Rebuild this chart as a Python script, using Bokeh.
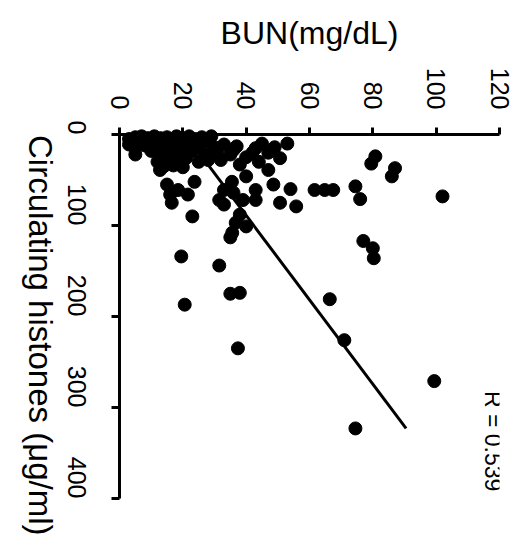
import math
from bokeh.plotting import figure
from bokeh.models import Range1d, Label, FixedTicker
from bokeh.embed import file_html
from bokeh.resources import INLINE

FONT = "Liberation Sans"

# BUN (mg/dL) values of the points
bun = [
    53, 50.7, 47, 43, 37, 33, 47, 40, 35.5, 48.6, 54, 61.6, 64.8, 67.5, 43, 33,
    43, 50.7, 55.8, 31.5, 33, 39, 36, 38, 36.7, 40, 35.6, 35, 23, 19.5, 31.5,
    35, 38, 20.6, 15, 16.5, 18.5, 21.6, 23.7, 16, 20, 12.8, 5, 3,
    80.8, 79.5, 87, 86, 74.5, 76, 102, 77, 80, 80.3, 66.4, 71,
    37.4, 99.4, 74.5,
    3, 4, 5, 6, 5, 7, 8, 8, 9, 10, 10, 11, 12, 12, 13, 13, 14, 15, 15, 16, 16,
    17, 18, 18, 19, 20, 20, 21, 22, 22, 23, 24, 25, 26, 27, 28, 29, 30, 12, 14,
    17, 19, 25, 28, 31,
    35, 40, 44, 38, 32, 36, 42, 45, 49,
]
# Circulating histones (ug/ml) values of the points
histones = [
    10, 26, 20, 15, 13, 11, 39, 46, 52, 55, 60, 61, 61, 61, 61, 61,
    72, 75, 79, 72, 77, 72, 64, 88, 97, 101, 108, 113, 90, 134, 144,
    175, 174, 187, 55, 75, 61, 66, 52, 66, 36, 39, 22, 11,
    24, 32, 37, 46, 57, 71, 68, 117, 125, 136, 181, 226,
    235, 271, 323,
    5, 10, 3, 8, 15, 2, 6, 12, 4, 9, 18, 2, 7, 14, 4, 22, 10, 3, 17, 6, 28,
    12, 2, 20, 8, 4, 15, 26, 2, 10, 18, 5, 12, 3, 22, 8, 2, 14, 30, 35,
    34, 30, 30, 28, 22,
    22, 25, 30, 33, 28, 17, 20, 10, 14,
]
# regression line end points
fit_histones = [1, 323]
fit_bun = [21, 90.5]

bun_ticks = [0, 20, 40, 60, 80, 100, 120]
histone_ticks = [0, 100, 200, 300, 400]
bun_title = "BUN(mg/dL)"
histone_title = "Circulating histones (\u03bcg/ml)"
r_text = "R = 0.539"

# layout (pixels): frame top 134, histone 400 at 498, frame extended to 535 so
# that the rotated axis title can end there; the axis itself stops at 400
FRAME_TOP, AXIS_END, FRAME_BOTTOM = 134, 498, 535
y_max = 400 * (FRAME_BOTTOM - FRAME_TOP) / (AXIS_END - FRAME_TOP)

p = figure(
    width=521, height=538,
    x_range=Range1d(0, 120), y_range=Range1d(y_max, 0),
    x_axis_location="above",
    output_backend="svg", toolbar_location=None,
    min_border_left=114, min_border_top=FRAME_TOP,
    min_border_right=22, min_border_bottom=538 - FRAME_BOTTOM,
)
p.outline_line_color = None
p.xgrid.grid_line_color = None
p.ygrid.grid_line_color = None
p.background_fill_color = "white"
p.border_fill_color = "white"

for ax in (p.xaxis[0], p.yaxis[0]):
    ax.axis_line_width = 3
    ax.axis_line_color = "black"
    ax.major_tick_line_width = 3
    ax.major_tick_line_color = "black"
    ax.major_tick_in = 0
    ax.minor_tick_line_color = None
    ax.major_label_text_font = FONT
    ax.major_label_text_font_size = "25px"
    ax.major_label_text_color = "black"
    ax.major_label_orientation = -math.pi / 2

xa = p.xaxis[0]
xa.ticker = FixedTicker(ticks=bun_ticks)
xa.major_tick_out = 7
xa.major_label_standoff = 18
xa.axis_label = bun_title
xa.axis_label_text_font = FONT
xa.axis_label_text_font_size = "32px"
xa.axis_label_text_font_style = "normal"
xa.axis_label_text_color = "black"
xa.axis_label_standoff = 14

ya = p.yaxis[0]
ya.ticker = FixedTicker(ticks=histone_ticks)
ya.bounds = (0, 400)
ya.major_tick_out = 8
ya.major_label_standoff = 35
ya.axis_label = histone_title
ya.axis_label_orientation = -math.pi / 2
ya.axis_label_align = "end"
ya.axis_label_text_font = FONT
ya.axis_label_text_font_size = "33px"
ya.axis_label_text_font_style = "normal"
ya.axis_label_text_color = "black"
ya.axis_label_standoff = 15

p.scatter(bun, histones, size=13, fill_color="black", line_color="black",
          level="overlay")
p.line(fit_bun, fit_histones, line_width=3, line_color="black")

p.add_layout(Label(x=118, y=337, text=r_text, angle=-math.pi / 2,
                   text_align="center", text_baseline="middle",
                   text_font=FONT, text_font_size="23px", text_color="black"))

open("out.html", "w").write(file_html(p, INLINE))
